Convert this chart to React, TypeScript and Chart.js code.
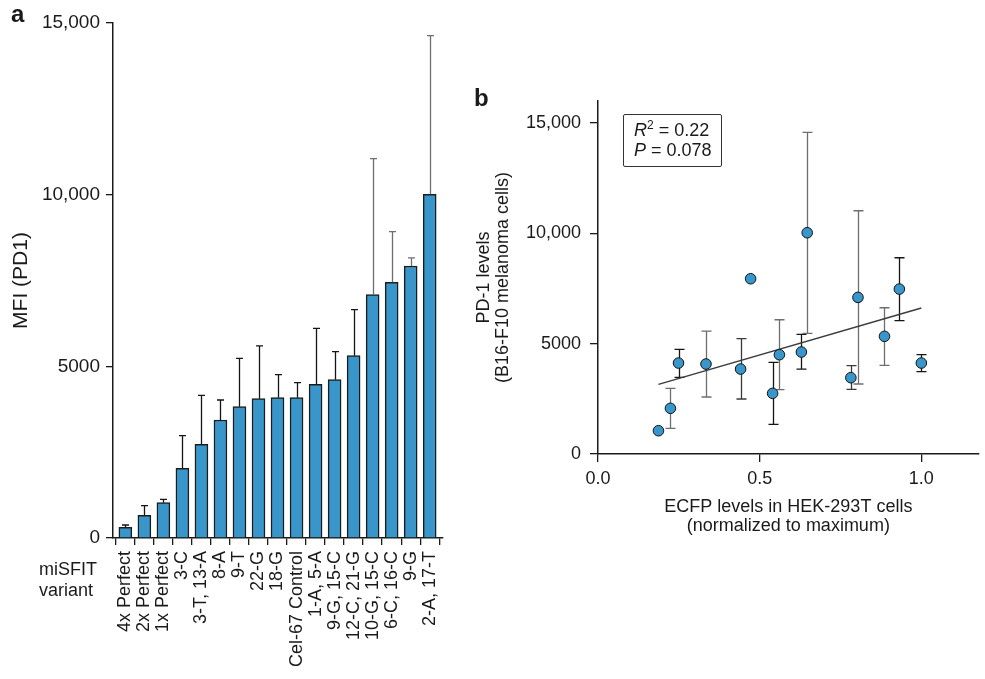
import React, { useEffect, useRef } from "react";
import { Chart, registerables } from "chart.js";

Chart.register(...registerables);

const FONT = '"Liberation Sans", Arial, Helvetica, sans-serif';
const INK = "#1a1a1a";
const BAR_BLUE = "#3896ca";

// ---------- Panel a data ----------
const variants = [
  "4x Perfect", "2x Perfect", "1x Perfect", "3-C", "3-T, 13-A", "8-A", "9-T",
  "22-G", "18-G", "Cel-67 Control", "1-A, 5-A", "9-G, 15-C", "12-C, 21-G",
  "10-G, 15-C", "6-C, 16-C", "9-G", "2-A, 17-T",
];
const mfi = [311, 661, 1029, 2030, 2728, 3437, 3825, 4059, 4088, 4088, 4476, 4612, 5311, 7088, 7447, 7923, 10012];
const mfiErrTop = [379, 941, 1127, 2981, 4156, 4020, 5234, 5593, 4758, 4525, 6107, 5428, 6651, 11050, 8923, 8157, 14633];
const mfiTicks = [0, 5000, 10000, 15000];

// ---------- Panel b data ----------
const ecfp = [0.187, 0.224, 0.249, 0.334, 0.441, 0.472, 0.54, 0.561, 0.629, 0.647, 0.782, 0.804, 0.886, 0.932, 1.0];
const pd1 = [1056, 2070, 4123, 4078, 3851, 7944, 2749, 4500, 4622, 10029, 3458, 7099, 5332, 7476, 4123];
const pd1ErrLow = [null, 1163, 3475, 2583, 2492, null, 1344, 2915, 3851, 5468, 2930, 3172, 4018, 6041, 3730];
const pd1ErrHigh = [null, 2976, 4743, 5573, 5226, null, 4153, 6086, 5422, 14575, 4002, 11025, 6629, 8896, 4500];
const fitX = [0.187, 1.0];
const fitY = [3157, 6617];
const pd1Ticks = [0, 5000, 10000, 15000];
const ecfpTicks = [0, 0.5, 1.0];

// ---------- styles (kept apart from data) ----------
const GREY = "#6e6e6e";
const BLACK = "#151515";
const barErrColors = [BLACK, BLACK, BLACK, BLACK, BLACK, BLACK, BLACK, BLACK, BLACK, BLACK, BLACK, BLACK, BLACK, GREY, GREY, GREY, GREY];
const ptErrColors = [BLACK, GREY, BLACK, GREY, "#3a3a3a", BLACK, BLACK, GREY, BLACK, GREY, "#3a3a3a", GREY, GREY, BLACK, BLACK];

const fmt = (v: number) => (v >= 10000 ? v.toLocaleString("en-US") : String(v));

const barErrorPlugin = {
  id: "barErr",
  afterDatasetsDraw(chart: any) {
    const meta = chart.getDatasetMeta(0);
    const ys = chart.scales.y;
    const ctx = chart.ctx;
    ctx.save();
    ctx.lineWidth = 1.3;
    meta.data.forEach((el: any, i: number) => {
      const top = ys.getPixelForValue(mfiErrTop[i]);
      const x = Math.round(el.x) + 0.5;
      ctx.strokeStyle = barErrColors[i];
      ctx.beginPath();
      ctx.moveTo(x, el.y);
      ctx.lineTo(x, top);
      ctx.moveTo(x - 3.5, top);
      ctx.lineTo(x + 3.5, top);
      ctx.stroke();
    });
    ctx.restore();
  },
};

const pointErrorPlugin = {
  id: "ptErr",
  beforeDatasetsDraw(chart: any) {
    const ys = chart.scales.y;
    const xs = chart.scales.x;
    const ctx = chart.ctx;
    ctx.save();
    ctx.lineWidth = 1.3;
    ecfp.forEach((xv, i) => {
      const lo = pd1ErrLow[i];
      const hi = pd1ErrHigh[i];
      if (lo == null || hi == null) return;
      const x = Math.round(xs.getPixelForValue(xv)) + 0.5;
      const yl = ys.getPixelForValue(lo);
      const yh = ys.getPixelForValue(hi);
      ctx.strokeStyle = ptErrColors[i];
      ctx.beginPath();
      ctx.moveTo(x, yl);
      ctx.lineTo(x, yh);
      ctx.moveTo(x - 5, yh);
      ctx.lineTo(x + 5, yh);
      ctx.moveTo(x - 5, yl);
      ctx.lineTo(x + 5, yl);
      ctx.stroke();
    });
    ctx.restore();
  },
};

export default function App() {
  const refA = useRef<HTMLCanvasElement | null>(null);
  const refB = useRef<HTMLCanvasElement | null>(null);

  useEffect(() => {
    const axisGrid = { drawOnChartArea: false, drawTicks: true, color: INK, lineWidth: 1.3 };
    const axisBorder = { display: true, color: INK, width: 1.5 };

    const chartA = new Chart(refA.current as HTMLCanvasElement, {
      type: "bar",
      data: {
        datasets: [
          {
            data: mfi.map((v, i) => ({ x: i, y: v })),
            backgroundColor: BAR_BLUE,
            borderColor: "#1c1c1c",
            borderWidth: 1.5,
            barThickness: 13,
          } as any,
        ],
      },
      options: {
        responsive: false,
        animation: false,
        layout: { padding: { left: 0, top: 23, right: 27, bottom: 0 } },
        plugins: { legend: { display: false }, tooltip: { enabled: false } },
        scales: {
          x: {
            type: "linear",
            min: -0.65,
            max: 16.7,
            offset: false,
            afterBuildTicks: (s: any) => {
              s.ticks = variants.map((_, i) => ({ value: i }));
            },
            afterFit: (s: any) => {
              s.height = 141;
            },
            ticks: {
              autoSkip: false,
              minRotation: 90,
              maxRotation: 90,
              padding: 6,
              color: INK,
              font: { family: FONT, size: 18 },
              callback: (v: any) => variants[v],
            },
            grid: { ...axisGrid, tickLength: 7 },
            border: axisBorder,
          },
          y: {
            min: 0,
            max: 15000,
            afterBuildTicks: (s: any) => {
              s.ticks = mfiTicks.map((v) => ({ value: v }));
            },
            afterFit: (s: any) => {
              s.width = 113;
            },
            ticks: {
              padding: 6,
              color: INK,
              font: { family: FONT, size: 19 },
              callback: (v: any) => fmt(v),
            },
            grid: { ...axisGrid, tickLength: 7 },
            border: axisBorder,
            title: {
              display: true,
              text: "MFI (PD1)",
              color: INK,
              font: { family: FONT, size: 21 },
              padding: { top: 9, bottom: 0 },
            },
          },
        },
      } as any,
      plugins: [barErrorPlugin],
    });

    const chartB = new Chart(refB.current as HTMLCanvasElement, {
      type: "scatter",
      data: {
        datasets: [
          {
            type: "line",
            data: fitX.map((x, i) => ({ x, y: fitY[i] })),
            borderColor: "#3c3c3c",
            borderWidth: 1.4,
            pointRadius: 0,
            fill: false,
            order: 2,
          } as any,
          {
            data: ecfp.map((x, i) => ({ x, y: pd1[i] })),
            backgroundColor: BAR_BLUE,
            borderColor: "#111",
            borderWidth: 1,
            pointRadius: 5.3,
            order: 1,
          } as any,
        ],
      },
      options: {
        responsive: false,
        animation: false,
        layout: { padding: { left: 0, top: 101, right: 0, bottom: 0 } },
        plugins: { legend: { display: false }, tooltip: { enabled: false } },
        scales: {
          x: {
            type: "linear",
            min: 0,
            max: 1.1774,
            afterBuildTicks: (s: any) => {
              s.ticks = ecfpTicks.map((v) => ({ value: v }));
            },
            afterFit: (s: any) => {
              s.height = 225;
            },
            ticks: {
              padding: 6,
              color: INK,
              font: { family: FONT, size: 18 },
              callback: (v: any) => Number(v).toFixed(1),
            },
            grid: { ...axisGrid, tickLength: 8 },
            border: axisBorder,
            title: {
              display: true,
              text: ["ECFP levels in HEK-293T cells", "(normalized to maximum)"],
              color: INK,
              font: { family: FONT, size: 18, lineHeight: "19px" },
              padding: { top: 0, bottom: 143.5 },
            },
          },
          y: {
            type: "linear",
            min: 0,
            max: 16000,
            afterBuildTicks: (s: any) => {
              s.ticks = pd1Ticks.map((v) => ({ value: v }));
            },
            afterFit: (s: any) => {
              s.width = 128;
            },
            ticks: {
              padding: 9,
              color: INK,
              font: { family: FONT, size: 18 },
              callback: (v: any) => fmt(v),
            },
            grid: { ...axisGrid, tickLength: 8 },
            border: axisBorder,
            title: {
              display: true,
              text: ["PD-1 levels", "(B16-F10 melanoma cells)"],
              color: INK,
              font: { family: FONT, size: 18, lineHeight: "19px" },
              padding: { top: 4.5, bottom: 0 },
            },
          },
        },
      } as any,
      plugins: [pointErrorPlugin],
    });

    return () => {
      chartA.destroy();
      chartB.destroy();
    };
  }, []);

  return (
    <div
      style={{
        position: "absolute",
        left: 0,
        top: 0,
        width: 985,
        height: 679,
        overflow: "hidden",
        background: "#fff",
        fontFamily: FONT,
        color: INK,
      }}
    >
      <canvas
        ref={refA}
        width={470}
        height={679}
        style={{ position: "absolute", left: 0, top: 0, width: 470, height: 679 }}
      />
      <canvas
        ref={refB}
        width={515}
        height={679}
        style={{ position: "absolute", left: 470, top: 0, width: 515, height: 679 }}
      />
      <div style={{ position: "absolute", left: 11, top: 2, fontSize: 24, fontWeight: "bold", lineHeight: "24px" }}>a</div>
      <div style={{ position: "absolute", left: 474, top: 86, fontSize: 24, fontWeight: "bold", lineHeight: "24px" }}>b</div>
      <div style={{ position: "absolute", left: 39, top: 559, fontSize: 18, lineHeight: "21px" }}>
        miSFIT
        <br />
        variant
      </div>
      <div
        style={{
          position: "absolute",
          left: 623,
          top: 114,
          width: 99,
          height: 53,
          boxSizing: "border-box",
          border: "1px solid #333",
          borderRadius: 2,
          padding: "5px 0 0 10px",
          fontSize: 18,
          lineHeight: "20px",
          whiteSpace: "nowrap",
        }}
      >
        <div>
          <i>R</i>
          <sup style={{ fontSize: 12, lineHeight: 0 }}>2</sup> = 0.22
        </div>
        <div>
          <i>P</i> = 0.078
        </div>
      </div>
    </div>
  );
}
